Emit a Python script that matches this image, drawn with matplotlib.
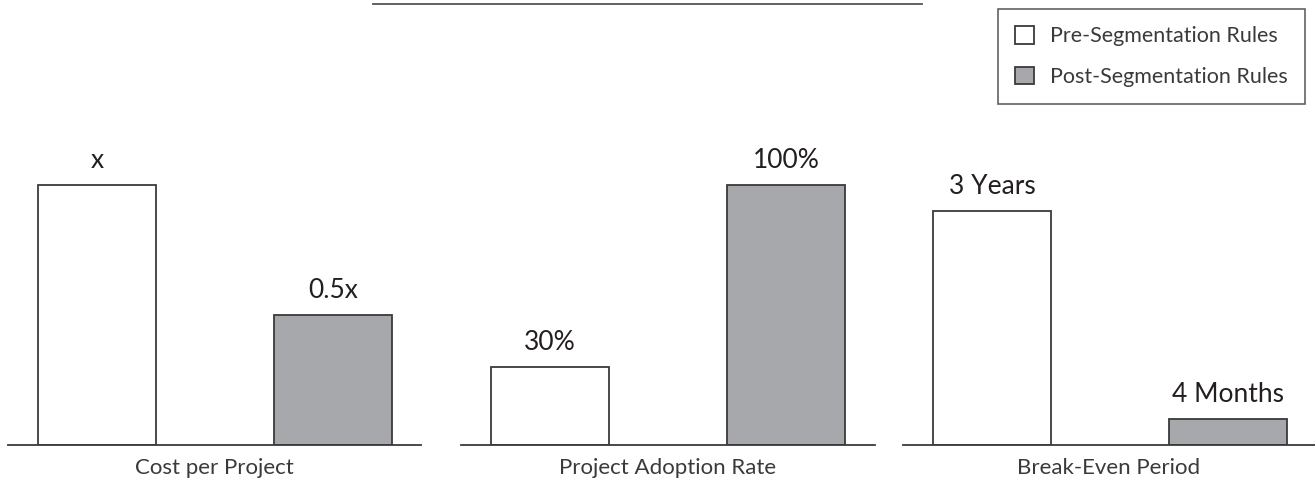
import matplotlib.pyplot as plt

plt.rcParams['font.family'] = ['Lato', 'DejaVu Sans']

# data
panels = ['Cost per Project', 'Project Adoption Rate', 'Break-Even Period']
series = ['Pre-Segmentation Rules', 'Post-Segmentation Rules']
pre_vals = [1.0, 30, 36]       # x, %, months
post_vals = [0.5, 100, 4]
pre_labels = ['x', '30%', '3 Years']
post_labels = ['0.5x', '100%', '4 Months']
ymax = [1.0965, 109.65, 43.9]

W, H = 1315, 483
fig = plt.figure(figsize=(W / 100, H / 100), dpi=100)

# panel extents in pixels (left, right)
extents = [(8, 421), (461, 875), (903, 1315)]
xlims = [(-0.377, 1.373), (-0.377, 1.377), (-0.377, 1.37)]
base_y, top_y = 445, 160

grey = '#a7a8ab'
edge = '#3a3a3a'
txt = '#231f20'

for i, ax_ext in enumerate(extents):
    l, r = ax_ext
    ax = fig.add_axes([l / W, 1 - base_y / H, (r - l) / W, (base_y - top_y) / H])
    b1 = ax.bar(0, pre_vals[i], width=0.5, color='white', edgecolor=edge, linewidth=1.3)
    b2 = ax.bar(1, post_vals[i], width=0.5, color=grey, edgecolor=edge, linewidth=1.3)
    ax.bar_label(b1, labels=[pre_labels[i]], padding=9, fontsize=19, color=txt)
    ax.bar_label(b2, labels=[post_labels[i]], padding=9, fontsize=19, color=txt)
    ax.set_xlim(*xlims[i])
    ax.set_ylim(0, ymax[i])
    for s in ['top', 'right', 'left']:
        ax.spines[s].set_visible(False)
    ax.spines['bottom'].set_color(edge)
    ax.spines['bottom'].set_linewidth(1.3)
    ax.set_yticks([])
    ax.set_xticks([])
    ax.set_xlabel(panels[i], fontsize=16, color='#3a3a3a', labelpad=9)
    if i == 0:
        h1, h2 = b1, b2

# top rule
fig.add_artist(plt.Line2D([373 / W, 922 / W], [1 - 3.5 / H, 1 - 3.5 / H],
                          color='#555555', linewidth=1.3))

leg = fig.legend([h1, h2], series, loc='upper right',
                 bbox_to_anchor=(1305 / W, 1 - 9 / H),
                 fontsize=15.5, frameon=True, fancybox=False,
                 handlelength=0.88, handleheight=0.88, handletextpad=0.74,
                 labelspacing=0.95, borderpad=0.8, borderaxespad=0,
                 labelcolor='#3a3a3a')
leg.get_frame().set_edgecolor(edge)
leg.get_frame().set_linewidth(1.2)

fig.savefig('out.png', dpi=100)
